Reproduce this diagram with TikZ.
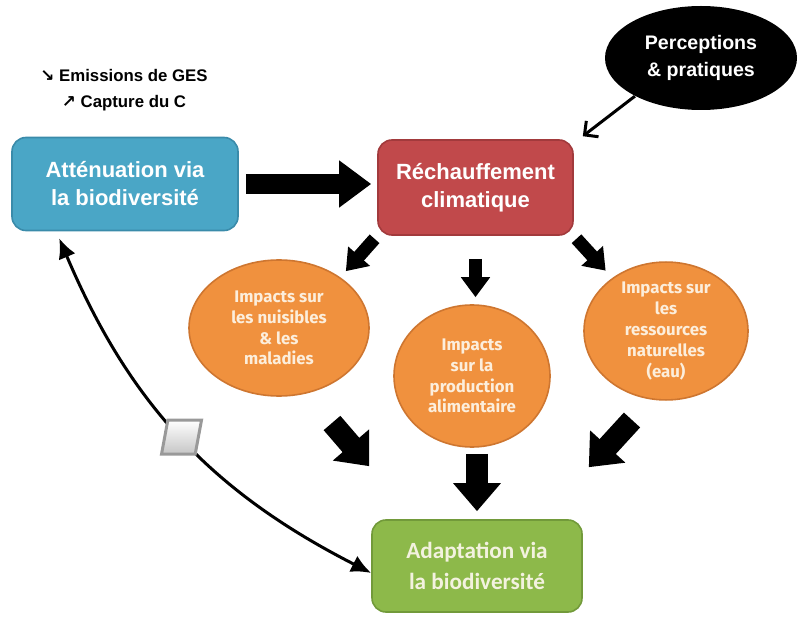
\documentclass[tikz,border=0pt]{standalone}
\usepackage{fontspec}
\setmainfont{Liberation Sans}
\newfontfamily\arrowfont{DejaVu Sans}
\newfontfamily\impactfont{Fira Sans}
\newfontfamily\adaptfont{Carlito}
\usetikzlibrary{positioning,arrows.meta,shapes.geometric}
\definecolor{mBlue}{HTML}{4AA6C6}
\definecolor{mBlueLine}{HTML}{3A8BAA}
\definecolor{mRed}{HTML}{C1494B}
\definecolor{mRedLine}{HTML}{A23A3C}
\definecolor{mOrange}{HTML}{F0913E}
\definecolor{mOrangeLine}{HTML}{CE7630}
\definecolor{mGreen}{HTML}{8DB94A}
\definecolor{mGreenLine}{HTML}{729A3A}
\definecolor{mCream}{HTML}{FCEEDC}
\definecolor{mPale}{HTML}{F3F2DF}
\tikzset{
 bluebox/.style={draw=mBlueLine, fill=mBlue, thick, rounded corners=7pt, minimum width=113pt, minimum height=46.5pt, align=center, text=white, font=\fontsize{11}{14}\selectfont\bfseries},
 redbox/.style={draw=mRedLine, fill=mRed, thick, rounded corners=7pt, minimum width=97.5pt, minimum height=47.5pt, align=center, text=white, font=\fontsize{11}{14}\selectfont\bfseries},
 greenbox/.style={draw=mGreenLine, fill=mGreen, thick, rounded corners=7pt, minimum width=105pt, minimum height=46pt, align=center, text=mPale, font=\adaptfont\fontsize{11.6}{15.5}\selectfont\bfseries},
 bigarrow/.style={line width=11pt, -{Triangle[length=14pt,width=23pt]}},
 midarrow/.style={line width=6.5pt, -{Triangle[length=10pt,width=14pt]}},
 thinarrow/.style={line width=1.5pt, -{Straight Barb[length=5pt,width=10pt]}},
 loopline/.style={line width=1.5pt, {Latex[length=10pt,width=9pt]}-{Latex[length=10pt,width=9pt]}},
 switchbox/.style={trapezium, trapezium left angle=77, trapezium right angle=103, trapezium stretches, draw=gray!80, top color=white, bottom color=gray!45, minimum height=17pt, minimum width=20pt, inner sep=2pt},
}
\newcommand{\impact}[6]{%
 \node[ellipse, draw=mOrangeLine, fill=mOrange, thick, minimum width=#3, minimum height=#4, inner sep=0pt, align=center, text=mCream, font=\impactfont\fontsize{8.4}{10.4}\selectfont\bfseries] (#5) at (#1,#2) {#6};}

\begin{document}
\begin{tikzpicture}[x=0.5pt, y=-0.5pt]
\useasboundingbox (0,0) rectangle (798,620);
% boxes
\node[align=center, font=\fontsize{8.4}{13}\selectfont\bfseries] (ges) at (124,90) {{\arrowfont ↘} Emissions de GES\\{\arrowfont ↗} Capture du C};
\node[bluebox] (attn) at (125,184) {Atténuation via\\la biodiversité};
\node[redbox] (warm) at (475.5,187.5) {Réchauffement\\climatique};
\node[ellipse, fill=black, minimum width=96pt, minimum height=52pt, align=center, text=white, font=\fontsize{9.8}{13.5}\selectfont\bfseries] (percep) at (701,58) {Perceptions\\\& pratiques};
\node[greenbox] (adapt) at (477,566) {Adaptation via\\la biodiversité};
% impacts
\impact{279}{328}{90pt}{68pt}{imp1}{Impacts sur\\les nuisibles\\\& les\\maladies}
\impact{472}{376}{78pt}{71pt}{imp2}{Impacts\\sur la\\production\\alimentaire}
\impact{666}{331}{82pt}{66pt}{imp3}{Impacts sur\\les\\ressources\\naturelles\\(eau)}
% arrows
\draw[line width=10pt, -{Triangle[length=16pt,width=22.5pt]}, shorten <=3.5pt, shorten >=3pt] (attn.east) -- (attn.east -| warm.west);
\draw[thinarrow] (percep.210) -- ([shift={(9,-3)}]warm.north east);
\draw[midarrow, shorten <=2pt] (warm.south west) -- ([shift={(12,-2)}]imp1.45);
\draw[midarrow, shorten <=11.5pt, shorten >=3.5pt] (warm.south) -- (warm.south |- imp2.north);
\draw[midarrow, shorten <=2pt] (warm.south east) -- ([shift={(-7,-7)}]imp3.135);
\draw[bigarrow] ([shift={(53,95)}]imp1.center) -- ([shift={(-2,-53)}]adapt.north west);
\draw[bigarrow, shorten <=3pt, shorten >=4pt] (adapt.north |- imp2.south) -- (adapt.north);
\draw[bigarrow] ([shift={(-34,89)}]imp3.center) -- ([shift={(6,-52)}]adapt.north east);
\draw[loopline] ([yshift=-3.5pt]adapt.west) to[bend left=20] node[switchbox] (switch) {} ([shift={(48,7)}]attn.south west);
\end{tikzpicture}
\end{document}
